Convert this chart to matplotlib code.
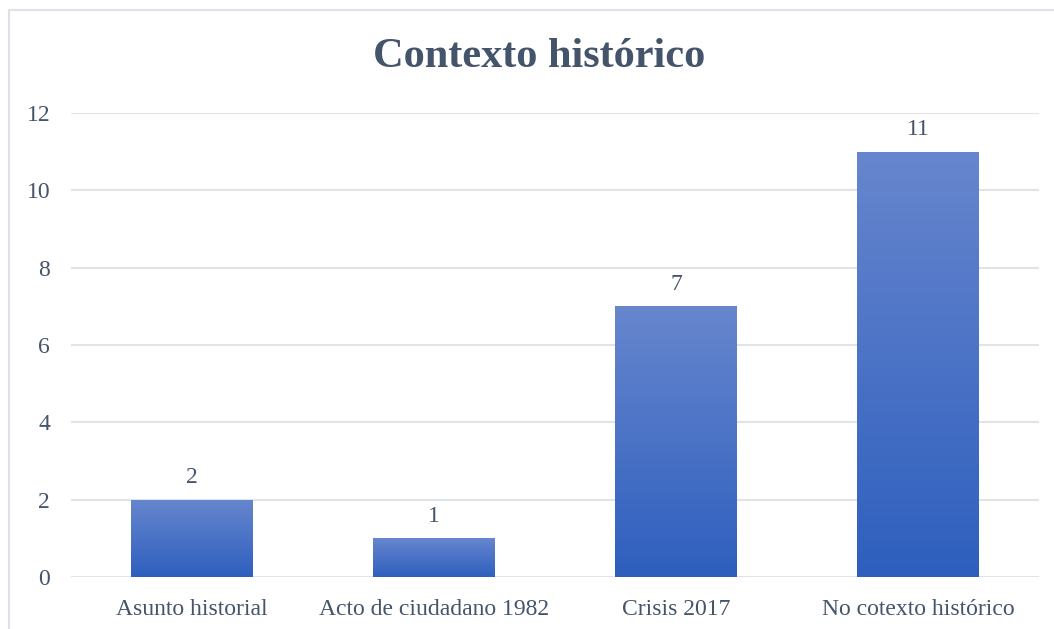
import matplotlib.pyplot as plt
import numpy as np
from matplotlib.patches import Rectangle
from matplotlib.colors import LinearSegmentedColormap

# datos
categorias = ['Asunto historial', 'Acto de ciudadano 1982', 'Crisis 2017', 'No cotexto histórico']
valores = [2, 1, 7, 11]
titulo = 'Contexto histórico'

plt.rcParams['font.family'] = ['Liberation Serif', 'DejaVu Serif']
texto = '#44546A'

fig = plt.figure(figsize=(10.54, 6.29), dpi=100)
ax = fig.add_axes([71 / 1054, 1 - 577 / 629, 968 / 1054, 464 / 629])

# marco del grafico
fig.patches.append(Rectangle((9 / 1054, -0.05), 1.1, 1 - 10 / 629 + 0.05,
                             transform=fig.transFigure, fill=False,
                             edgecolor='#DDE2E8', linewidth=1.5))

x = np.arange(len(categorias))
barras = ax.bar(x, valores, width=0.504, color='#4A76CC', zorder=2)

# degradado de las barras
cmap = LinearSegmentedColormap.from_list('azul', ['#2E5FBE', '#6786CE'])
grad = np.linspace(0, 1, 256).reshape(-1, 1)
for b in barras:
    x0, w, h = b.get_x(), b.get_width(), b.get_height()
    im = ax.imshow(grad, cmap=cmap, origin='lower', aspect='auto',
                   extent=(x0, x0 + w, 0, h), zorder=3)
    im.set_clip_path(b)
    ax.text(x0 + w / 2, h + 0.3, str(int(h)), ha='center', va='bottom',
            fontsize=17, color=texto)

ax.set_xlim(-0.5, len(categorias) - 0.5)
ax.set_ylim(0, 12)
ax.set_yticks(range(0, 13, 2))
ax.set_xticks(x)
ax.set_xticklabels(categorias)
ax.grid(axis='y', color='#E0E3E8', linewidth=1.5, zorder=0)
ax.tick_params(length=0, labelsize=17, labelcolor=texto)
ax.tick_params(axis='y', pad=15)
ax.tick_params(axis='x', pad=16)
for s in ax.spines.values():
    s.set_visible(False)

fig.text(539 / 1054, 1 - 57 / 629, titulo, ha='center', va='center',
         fontsize=30.5, fontweight='bold', color=texto)

fig.savefig('out.png', dpi=100)
